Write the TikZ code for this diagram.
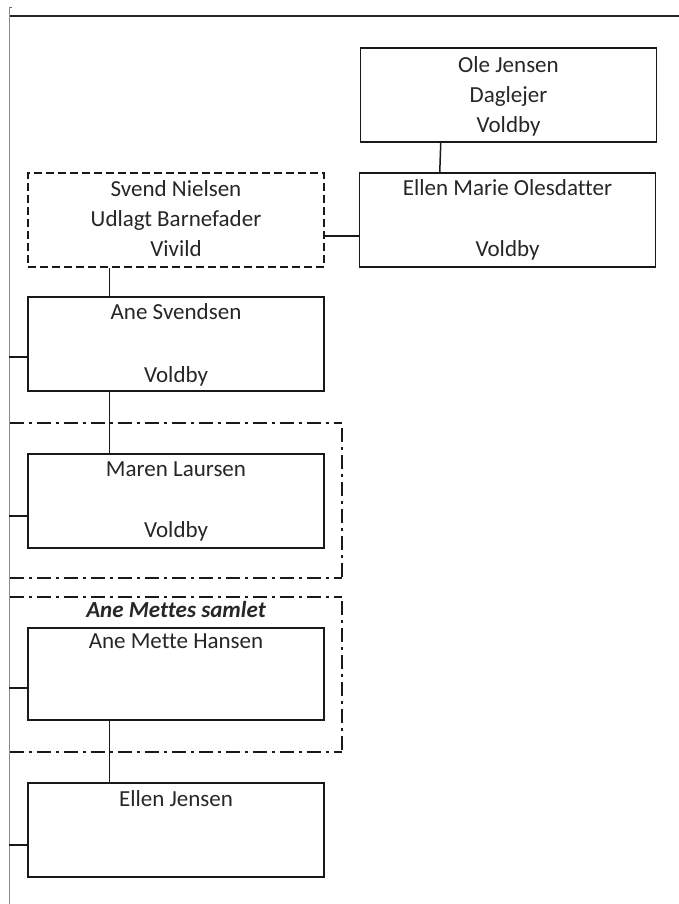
\documentclass[tikz,border=0pt]{standalone}
\usepackage{fontspec}
\setmainfont[Ligatures={NoCommon}]{Carlito}
\begin{document}
\begin{tikzpicture}[x=1pt,y=-1pt,
  person/.style={draw=black!90,line width=1.5pt,minimum width=296pt,minimum height=94pt,inner sep=0pt,fill=none},
  txt/.style={font=\fontsize{23}{30}\selectfont,anchor=base,inner sep=0pt,text=black!85},
  link/.style={draw=black!90,line width=1.5pt},
  framebox/.style={draw=black!90,line width=1.5pt,dash pattern=on 14pt off 5pt on 3pt off 5pt},
  dashedbox/.style={dash pattern=on 8pt off 4pt}]
\useasboundingbox (0,0) rectangle (679,904);
% page rules
\draw[black!85,line width=2pt] (9,16.5) coordinate (rl) -- (679,16.5) coordinate (rr);
\draw[black!45,line width=1pt] (9.5,7) coordinate (gl) -- (9.5,904) coordinate (gb);
\draw[black!60,line width=1pt] (9.5,7.5) -- (12,7.5);
% persons
\node[person] (ole) at (508.5,95) {};
\node[person] (emo) at (507.5,220) {};
\node[person,dashedbox] (svend) at (176,220) {};
\node[person] (ane) at (176,344) {};
\node[person] (maren) at (176,501) {};
\node[person,minimum height=92pt] (anemette) at (176,674) {};
\node[person] (ellen) at (176,830) {};
% frames
\draw[framebox] (9.5,423) coordinate (f1a) -- (342,423) coordinate (f1b);
\draw[framebox] (342,428) -- (342,578);
\draw[framebox] (9.5,578) coordinate (f1c) -- (342,578);
\draw[framebox] (9.5,597) coordinate (f2a) -- (342,597);
\draw[framebox] (342,601) -- (342,752);
\draw[framebox] (9.5,752) coordinate (f2c) -- (342,752);
% texts
\node[txt] at ([yshift=-25pt]ole.north) {Ole Jensen};
\node[txt] at ([yshift=-55pt]ole.north) {Daglejer};
\node[txt] at ([yshift=-85pt]ole.north) {Voldby};
\node[txt] at ([yshift=-23pt]emo.north) {Ellen Marie Olesdatter};
\node[txt] at ([yshift=-84pt]emo.north) {Voldby};
\node[txt] at ([yshift=-24pt]svend.north) {Svend Nielsen};
\node[txt] at ([yshift=-54pt]svend.north) {Udlagt Barnefader};
\node[txt] at ([yshift=-84pt]svend.north) {Vivild};
\node[txt] at ([yshift=-23pt]ane.north) {Ane Svendsen};
\node[txt] at ([yshift=-86pt]ane.north) {Voldby};
\node[txt] at ([yshift=-23pt]maren.north) {Maren Laursen};
\node[txt] at ([yshift=-84pt]maren.north) {Voldby};
\node[txt,font=\fontsize{23}{30}\selectfont\bfseries\itshape] (samlet) at (176,617) {Ane Mettes samlet};
\node[txt] at ([yshift=-21pt]anemette.north) {Ane Mette Hansen};
\node[txt] at ([yshift=-24pt]ellen.north) {Ellen Jensen};
% connectors
\draw[link] ([xshift=81pt]ole.south west) -- ([xshift=81pt]emo.north west);
\draw[link] ([yshift=-16pt]emo.west) -- ([yshift=-16pt]svend.east);
\draw[link] ([xshift=82pt]svend.south west) -- ([xshift=82pt]ane.north west);
\draw[link] ([xshift=82pt]ane.south west) -- ([xshift=82pt]maren.north west);
\draw[link] ([xshift=82pt]anemette.south west) -- ([xshift=82pt]ellen.north west);
\draw[link] ([yshift=-13pt]ane.west) -- ++(-18.5,0);
\draw[link] ([yshift=-15pt]maren.west) -- ++(-18.5,0);
\draw[link] ([yshift=-14pt]anemette.west) -- ++(-18.5,0);
\draw[link] ([yshift=-15pt]ellen.west) -- ++(-18.5,0);
\end{tikzpicture}
\end{document}
